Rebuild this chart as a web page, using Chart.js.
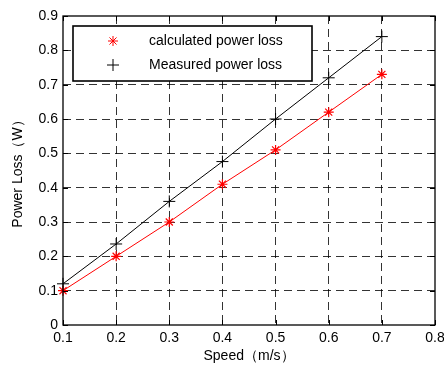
<!DOCTYPE html>
<html>
<head>
<meta charset="utf-8">
<script src="https://cdn.jsdelivr.net/npm/chart.js@4/dist/chart.umd.min.js"></script>
<style>
  body { margin: 0; background: #fff; }
  canvas { display: block; }
</style>
</head>
<body>
<canvas id="myChart" width="444" height="365"></canvas>
<script>
// data
const speeds = [0.1, 0.2, 0.3, 0.4, 0.5, 0.6, 0.7];
const calculatedLoss = [0.10, 0.20, 0.30, 0.41, 0.51, 0.62, 0.73];
const measuredLoss = [0.12, 0.236, 0.36, 0.476, 0.60, 0.72, 0.84];
const xTicks = [0.1, 0.2, 0.3, 0.4, 0.5, 0.6, 0.7, 0.8];
const yTicks = [0, 0.1, 0.2, 0.3, 0.4, 0.5, 0.6, 0.7, 0.8, 0.9];

const FONT = '"Liberation Sans", Arial, sans-serif';

function toPoints(xs, ys) {
    return xs.map((x, i) => ({ x: x, y: ys[i] }));
}

// grid color: skip the lines that sit on the frame
function innerGrid(ctx) {
    const n = ctx.scale.ticks.length;
    if (ctx.index === 0 || ctx.index === n - 1) return 'rgba(0,0,0,0)';
    return 'rgba(0,0,0,0.8)';
}

// frame with inward ticks, matlab style
const framePlugin = {
    id: 'frame',
    afterDatasetsDraw(chart) {
        const ctx = chart.ctx;
        const a = chart.chartArea;
        const xs = chart.scales.x;
        const ys = chart.scales.y;
        ctx.save();
        ctx.strokeStyle = '#000';
        ctx.lineWidth = 1;
        ctx.beginPath();
        xs.ticks.forEach(t => {
            const px = Math.round(xs.getPixelForValue(t.value)) + 0.5;
            ctx.moveTo(px, a.bottom); ctx.lineTo(px, a.bottom - 5);
            ctx.moveTo(px, a.top); ctx.lineTo(px, a.top + 5);
        });
        ys.ticks.forEach(t => {
            const py = Math.round(ys.getPixelForValue(t.value)) + 0.5;
            ctx.moveTo(a.left, py); ctx.lineTo(a.left + 5, py);
            ctx.moveTo(a.right, py); ctx.lineTo(a.right - 5, py);
        });
        ctx.stroke();
        ctx.lineWidth = 1.3;
        ctx.strokeRect(a.left, a.top, a.right - a.left, a.bottom - a.top);
        ctx.restore();
    }
};

// legend box inside the plot, top-left
const legendBoxPlugin = {
    id: 'legendBox',
    afterDatasetsDraw(chart) {
        const ctx = chart.ctx;
        const bx = 73, by = 26, bw = 239, bh = 55;
        ctx.save();
        ctx.fillStyle = '#fff';
        ctx.fillRect(bx, by, bw, bh);
        ctx.strokeStyle = '#000';
        ctx.lineWidth = 1.6;
        ctx.strokeRect(bx, by, bw, bh);
        ctx.font = '14px ' + FONT;
        ctx.textBaseline = 'middle';
        chart.data.datasets.forEach((ds, i) => {
            const y = by + 15 + i * 24;
            ctx.strokeStyle = ds.borderColor;
            ctx.lineWidth = 1;
            Chart.helpers.drawPoint(ctx, {
                pointStyle: ds.pointStyle,
                radius: ds.pointRadius,
                borderWidth: 1,
                rotation: 0
            }, 113, y);
            ctx.fillStyle = '#000';
            ctx.fillText(ds.label, 149, y);
        });
        ctx.restore();
    }
};

const ctx = document.getElementById('myChart').getContext('2d');

new Chart(ctx, {
    type: 'line',
    data: {
        datasets: [{
            label: 'calculated power loss',
            data: toPoints(speeds, calculatedLoss),
            borderColor: '#ff0000',
            backgroundColor: '#ff0000',
            borderWidth: 1,
            pointStyle: 'star',
            pointRadius: 5,
            pointBorderWidth: 1.2,
            clip: false
        }, {
            label: 'Measured power loss',
            data: toPoints(speeds, measuredLoss),
            borderColor: '#000000',
            backgroundColor: '#000000',
            borderWidth: 1,
            pointStyle: 'cross',
            pointRadius: 6,
            pointBorderWidth: 1,
            clip: false
        }]
    },
    options: {
        responsive: false,
        animation: false,
        layout: { padding: { top: 16, right: 9, left: 0, bottom: 0 } },
        plugins: {
            legend: { display: false },
            tooltip: { enabled: false }
        },
        scales: {
            x: {
                type: 'linear',
                min: 0.1,
                max: 0.8,
                afterBuildTicks: s => { s.ticks = xTicks.map(v => ({ value: v })); },
                afterFit: s => { s.height = 40; s.paddingLeft = 0; s.paddingRight = 0; },
                ticks: {
                    color: '#000',
                    padding: 5,
                    maxRotation: 0,
                    font: { family: FONT, size: 14 },
                    callback: v => v.toFixed(1)
                },
                grid: {
                    drawTicks: false,
                    color: innerGrid,
                    lineWidth: 1
                },
                border: { display: false, dash: [8, 5] },
                title: {
                    display: true,
                    text: 'Speed（m/s）',
                    color: '#000',
                    font: { family: FONT, size: 14 },
                    padding: { top: 0, bottom: 0 }
                }
            },
            y: {
                min: 0,
                max: 0.9,
                afterBuildTicks: s => { s.ticks = yTicks.map(v => ({ value: v })); },
                afterFit: s => { s.width = 63; s.paddingTop = 0; s.paddingBottom = 0; },
                ticks: {
                    color: '#000',
                    padding: 5,
                    font: { family: FONT, size: 14 },
                    callback: v => v === 0 ? '0' : v.toFixed(1)
                },
                grid: {
                    drawTicks: false,
                    color: innerGrid,
                    lineWidth: 1
                },
                border: { display: false, dash: [8, 5] },
                title: {
                    display: true,
                    text: 'Power Loss（W）',
                    color: '#000',
                    font: { family: FONT, size: 14 },
                    padding: { top: 10, bottom: 0 }
                }
            }
        }
    },
    plugins: [framePlugin, legendBoxPlugin]
});
</script>
</body>
</html>
